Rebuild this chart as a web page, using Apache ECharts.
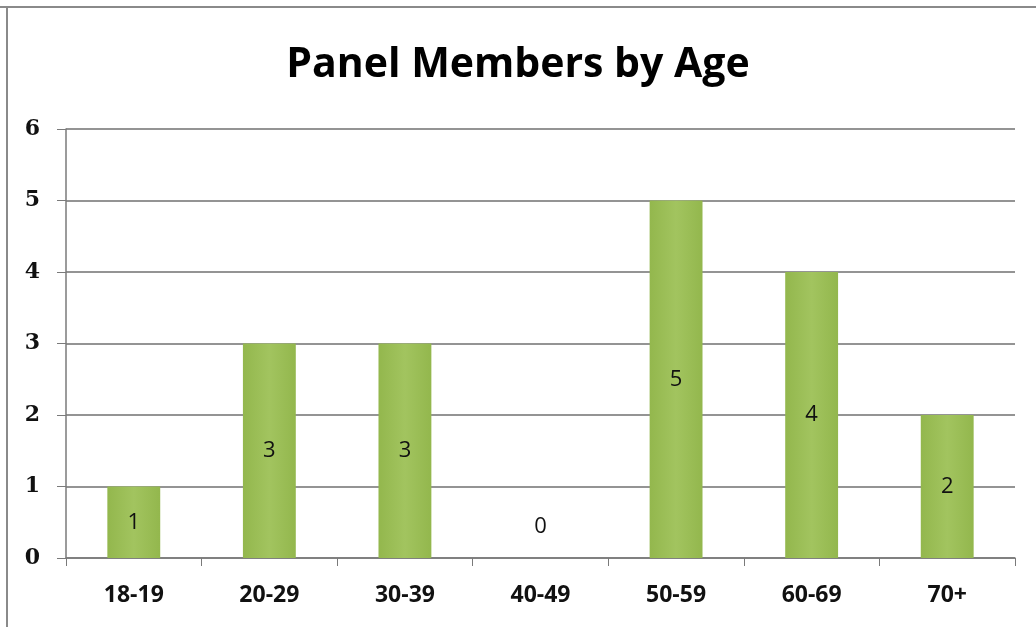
<!DOCTYPE html>
<html>
<head>
<meta charset="utf-8">
<script src="https://cdn.jsdelivr.net/npm/echarts@6/dist/echarts.min.js"></script>
<style>
html,body{margin:0;padding:0;background:#fff;}
#c{width:1036px;height:627px;}
</style>
</head>
<body>
<div id="c"></div>
<script>
const titleText = 'Panel Members by Age';
const categories = ['18-19', '20-29', '30-39', '40-49', '50-59', '60-69', '70+'];
const members = [1, 3, 3, 0, 5, 4, 2];
const yTicks = [0, 1, 2, 3, 4, 5, 6];

const chart = echarts.init(document.getElementById('c'));
const barData = members.map(v => v === 0
  ? { value: v, label: { position: 'top', distance: 20 } }
  : v);

chart.setOption({
  animation: false,
  backgroundColor: '#fff',
  title: {
    text: titleText,
    left: 'center',
    top: 40,
    textStyle: { fontFamily: 'Open Sans', fontWeight: 'bold', fontSize: 41, color: '#000' }
  },
  graphic: [
    { type: 'line', shape: { x1: 0, y1: 7, x2: 1036, y2: 7 }, style: { stroke: '#8a8a8a', lineWidth: 2 } },
    { type: 'line', shape: { x1: 7, y1: 7, x2: 7, y2: 627 }, style: { stroke: '#8a8a8a', lineWidth: 2 } }
  ],
  grid: { left: 66, right: 21, top: 129, bottom: 69, containLabel: false },
  xAxis: {
    type: 'category',
    data: categories,
    axisLine: { lineStyle: { color: '#7a7a7a', width: 1.5 } },
    axisTick: { show: true, alignWithLabel: false, length: 8, lineStyle: { color: '#7a7a7a' } },
    axisLabel: { fontFamily: 'Open Sans', fontWeight: 'bold', fontSize: 23, color: '#111', margin: 26 }
  },
  yAxis: {
    type: 'value',
    min: yTicks[0],
    max: yTicks[yTicks.length - 1],
    interval: 1,
    axisLine: { show: true, lineStyle: { color: '#7a7a7a', width: 1.5 } },
    axisTick: { show: true, length: 9, lineStyle: { color: '#7a7a7a' } },
    splitLine: { lineStyle: { color: '#707070', width: 1.5 } },
    axisLabel: { fontFamily: 'DejaVu Serif', fontWeight: 'bold', fontSize: 22, color: '#111', margin: 26 }
  },
  series: [{
    type: 'bar',
    data: barData,
    barWidth: '39%',
    itemStyle: {
      color: new echarts.graphic.LinearGradient(0, 0, 1, 0, [
        { offset: 0, color: '#93b74d' },
        { offset: 0.5, color: '#a2c45f' },
        { offset: 1, color: '#93b74d' }
      ])
    },
    label: {
      show: true,
      position: 'inside',
      fontFamily: 'Open Sans',
      fontSize: 22,
      color: '#111'
    }
  }]
});
</script>
</body>
</html>
